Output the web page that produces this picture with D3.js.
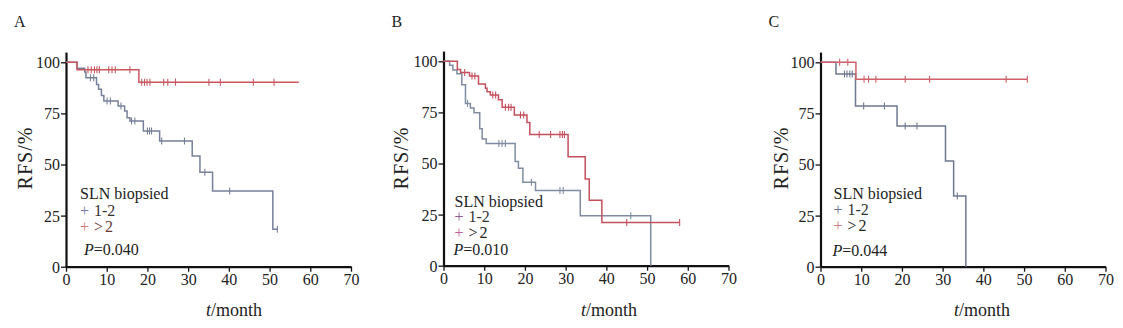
<!DOCTYPE html>
<html><head><meta charset="utf-8">
<script src="https://cdn.jsdelivr.net/npm/d3@7"></script>
<style>
body{margin:0;background:#fff}
text{font-family:"Liberation Serif","Times New Roman",serif;fill:#222}
</style>
</head><body>
<svg id="c" width="1123" height="328"></svg>
<script>
// ---------- data ----------
const xTicks = [0,10,20,30,40,50,60,70];
const yTicks = [0,25,50,75,100];
const panelLetters = ["A","B","C"];
const legendTitle = "SLN biopsied";
const groupLabels = ["1-2",">2"];
const pValues = ["0.040","0.010","0.044"];
const yTitle = "RFS/%";

// Panel A, group 1-2
const aLowTimes = [0,2.7,4.6,4.9,7.5,8.0,8.7,9.3,12.8,14.4,15.0,15.7,19.0,23.0,31.0,32.9,36.0,50.8];
const aLowSurv  = [100,97.1,95.3,92.5,89.2,86.8,83.8,81.1,78.6,76.2,72.9,71.3,66.4,61.5,54.2,46.2,37.0,18.3];
const aLowCensor = [6.0,6.8,10.1,10.9,13.5,16.1,16.9,20.0,20.5,21.0,23.5,29.1,34.1,40.2,51.9];
const aLowEnd = 52.0;
// Panel A, group >2
const aHighTimes = [0,2.7,17.9];
const aHighSurv  = [100,96.3,90.3];
const aHighCensor = [5.4,6.2,7.0,7.6,8.2,10.5,11.3,12.1,15.7,18.6,19.3,19.9,20.6,24.0,25.0,26.9,35.1,37.9,46.0,51.1];
const aHighEnd = 57.2;

// Panel B, group 1-2
const bLowTimes = [0,1.5,2.3,3.3,4.5,5.4,6.6,7.5,8.9,9.5,10.5,17.6,18.4,19.5,22.6,33.6,50.9];
const bLowSurv  = [100,98.1,95.8,93.9,88.5,79.4,77.2,74.8,67.0,62.0,59.8,51.0,47.7,40.8,36.8,24.4,0];
const bLowCensor = [5.9,13.6,14.4,15.2,21.6,28.6,29.4,46.0];
const bLowEnd = 50.9;
// Panel B, group >2
const bHighTimes = [0,3.4,4.2,6.4,8.6,10.3,10.7,11.5,13.5,14.4,17.4,20.5,21.2,30.6,34.8,35.8,38.9];
const bHighSurv  = [100,96.0,94.5,92.8,88.9,86.8,85.1,83.5,81.2,77.5,73.7,70.1,64.2,53.3,42.4,32.0,21.1];
const bHighCensor = [5.2,7.0,7.7,12.1,12.8,15.2,16.0,16.6,18.9,19.7,23.5,26.3,28.6,29.2,29.7,45.0,58.0];
const bHighEnd = 58.0;

// Panel C, group 1-2
const cLowTimes = [0,3.8,8.6,18.8,30.7,32.7,35.7];
const cLowSurv  = [100,94.3,78.6,68.8,51.7,34.6,0];
const cLowCensor = [5.9,6.5,7.2,7.8,10.6,15.7,20.8,23.7,33.6];
const cLowEnd = 35.7;
// Panel C, group >2
const cHighTimes = [0,8.7];
const cHighSurv  = [100,91.7];
const cHighCensor = [4.7,6.7,10.7,11.8,13.6,20.8,26.8,45.6,50.8];
const cHighEnd = 50.8;

// ---------- layout / style ----------
const panels = [
  {left:66,  bottom:266.7, letter:0, p:0, low:[aLowTimes,aLowSurv,aLowCensor,aLowEnd], high:[aHighTimes,aHighSurv,aHighCensor,aHighEnd],
   lowColor:"#77809a", highColor:"#c8585f", lowPlus:"#77809a", highPlus:"#d07a70", highText:"#6a3a34",
   legX:14, legY:[199,216,232], pY:255, titleX:25, xtitleX:234},
  {left:443.5, bottom:265.7, letter:1, p:1, low:[bLowTimes,bLowSurv,bLowCensor,bLowEnd], high:[bHighTimes,bHighSurv,bHighCensor,bHighEnd],
   lowColor:"#7f8ca2", highColor:"#c4505e", lowPlus:"#8a5a92", highPlus:"#c0609a", highText:"#222",
   legX:11, legY:[207,222,238], pY:255, titleX:401, xtitleX:609},
  {left:820.5, bottom:266.7, letter:2, p:2, low:[cLowTimes,cLowSurv,cLowCensor,cLowEnd], high:[cHighTimes,cHighSurv,cHighCensor,cHighEnd],
   lowColor:"#6e7890", highColor:"#d0606a", lowPlus:"#6a7090", highPlus:"#d07a80", highText:"#222",
   legX:13, legY:[199,215,231], pY:256, titleX:781, xtitleX:982}
];
const W = 285, H100 = 204.4;

const svg = d3.select("#c");

panels.forEach(P => {
  const x = d3.scaleLinear().domain([0,70]).range([P.left, P.left+W]);
  const y = d3.scaleLinear().domain([0,105]).range([P.bottom, P.bottom - H100*1.05]);

  // axes
  const gx = svg.append("g").attr("transform",`translate(0,${P.bottom})`)
    .call(d3.axisBottom(x).tickValues(xTicks).tickSize(5).tickSizeOuter(0).tickPadding(2));
  const gy = svg.append("g").attr("transform",`translate(${P.left},0)`)
    .call(d3.axisLeft(y).tickValues(yTicks).tickSize(5).tickSizeOuter(0).tickPadding(1));
  [gx,gy].forEach(g=>{
    g.attr("font-family",null);
    g.select(".domain").attr("stroke","#111").attr("stroke-width",2.2);
    g.selectAll(".tick line").attr("stroke","#111").attr("stroke-width",1.3);
    g.selectAll(".tick text").attr("fill","#222").style("font-size","16px")
      .style("font-family",'"Liberation Serif","Times New Roman",serif');
  });
  gy.selectAll(".tick text").attr("dy","0.34em");

  // curves
  const line = d3.line().x(d=>x(d[0])).y(d=>y(d[1])).curve(d3.curveStepAfter);
  function drawSeries(s, color){
    const [times, surv, cens, end] = s;
    const pts = times.map((t,i)=>[t,surv[i]]);
    if (end > times[times.length-1]) pts.push([end, surv[surv.length-1]]);
    svg.append("path").datum(pts).attr("d",line)
      .attr("fill","none").attr("stroke",color).attr("stroke-width",1.5);
    const at = t => { let v = surv[0]; times.forEach((tt,i)=>{ if (tt<=t) v = surv[i]; }); return v; };
    svg.append("g").selectAll("line").data(cens).join("line")
      .attr("x1",d=>x(d)).attr("x2",d=>x(d))
      .attr("y1",d=>y(at(d))-3.5).attr("y2",d=>y(at(d))+3.5)
      .attr("stroke",color).attr("stroke-width",1.1);
  }
  drawSeries(P.low, P.lowColor);
  drawSeries(P.high, P.highColor);

  // legend
  const lx = P.left + P.legX;
  svg.append("text").attr("x",lx).attr("y",P.legY[0]).style("font-size","16px").text(legendTitle);
  [[P.lowPlus,"#333",groupLabels[0],0],[P.highPlus,P.highText,groupLabels[1],2]].forEach((g,i)=>{
    svg.append("text").attr("x",lx).attr("y",P.legY[i+1]).style("font-size","16px")
      .style("fill",g[0]).text("+");
    svg.append("text").attr("x",lx+14).attr("y",P.legY[i+1]).style("font-size","16px")
      .style("letter-spacing",g[3]+"px").style("fill",g[1]).text(g[2]);
  });
  const pt = svg.append("text").attr("x",lx+(P.letter===0?4:-1)).attr("y",P.pY).style("font-size","16px");
  pt.append("tspan").style("font-style","italic").text("P");
  pt.append("tspan").text("="+pValues[P.p]);

  // titles
  svg.append("text").attr("transform",`translate(${P.titleX},158) rotate(-90)`)
    .attr("text-anchor","middle").attr("dy","0.35em").style("font-size","20px")
    .style("letter-spacing","1px").text(yTitle);
  const xt = svg.append("text").attr("x",P.xtitleX).attr("y",316).attr("text-anchor","middle").style("font-size","18px");
  xt.append("tspan").style("font-style","italic").text("t");
  xt.append("tspan").text("/month");

  svg.append("text").attr("x",P.left-52).attr("y",27).style("font-size","16px").text(panelLetters[P.letter]);
});
</script>
</body></html>
